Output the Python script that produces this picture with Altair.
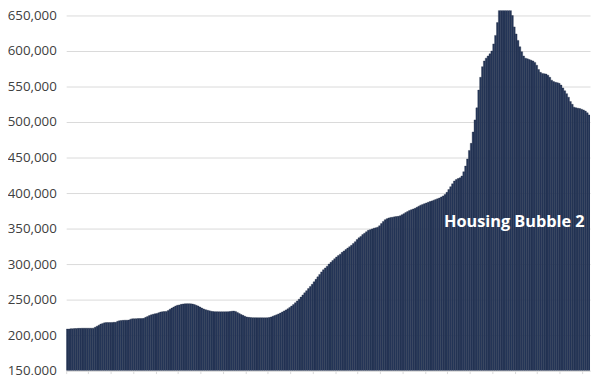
import altair as alt
import pandas as pd

# Values in thousands, one per bar (monthly)
seg_a = [208.5, 208.5, 209, 209, 209.3, 209.3, 209.5, 209.5, 209.7, 209.7, 209.7, 209.7,
         209.7, 209.7, 209.8, 211, 212.5, 214, 215.5, 216.5, 217.3, 217.6, 217.6, 217.6,
         217.8, 218, 218, 219.5, 220.3, 220.6, 220.8, 221, 221, 221.2, 222.5, 223,
         223, 223.2, 223.3, 223.3, 223.4, 223.6, 225, 226.3, 227.5, 228.5, 229.3, 230,
         230.5, 231.5, 232.5, 233, 233.2, 233.4, 234.5, 236.5, 238, 239.5, 241, 242,
         242.5, 243.3, 243.8, 244, 244.2, 244.2, 244, 243.8, 243, 242, 241, 239.5]
seg_b = [238, 236.8, 235.8, 235, 234.3, 233.6, 233.2, 233, 233, 232.8, 232.8, 232.8,
         232.8, 232.9, 233, 233.2, 233.6, 233.8, 233.4, 232, 230.5, 229, 227.8, 226.5,
         225.5, 225, 224.8, 224.6, 224.5, 224.5, 224.4, 224.4, 224.4, 224.3, 224.3, 224.4,
         224.8, 225.5, 226.5, 227.5, 228.5, 229.8, 231, 232.5, 234, 235.5, 237, 239,
         241, 243, 245.5, 248, 250.5, 253.5, 256.5, 259.5, 262.5, 265.5, 268.5, 271.5,
         275, 278.5, 282, 285.5, 289, 292, 294.5, 297, 300, 302.5, 305, 307.5]
seg_c = [310, 312, 314, 316.5, 318.5, 320.5, 322.5, 324.5, 326.5, 329, 331.5, 334.5,
         337, 339, 341.5, 343.5, 345.5, 347.5, 348.5, 349.5, 350.5, 351, 352, 354,
         357, 360, 362.5, 364, 365, 365.7, 366, 366.5, 367, 367.2, 368, 369.5,
         371, 372.5, 374, 375.5, 376.5, 377.5, 378.5, 380, 381.5, 383, 384, 385,
         386, 387, 388, 389, 390, 391, 392, 393, 394.5, 396, 398, 401,
         405, 409, 413, 417, 419, 420.5, 421.5, 424, 430, 438, 448, 460]
seg_d = [470, 486, 503, 520, 545, 563, 578, 586, 590, 593, 596, 600,
         610, 622, 640, 658, 672, 680, 685, 682, 674, 662, 650, 634,
         624, 615, 606, 599, 593, 590, 589, 588, 587, 586, 584, 580,
         574, 570, 568.5, 568, 567.5, 566, 563, 559, 557, 556, 555.5, 554.5,
         552, 548, 544, 540, 535, 529, 525, 521, 520, 519.5, 519, 518,
         517, 515.5, 513, 510]

values = [v * 1000 for v in seg_a + seg_b + seg_c + seg_d]
idx = list(range(len(values)))
df = pd.DataFrame({"i": idx, "price": values})

y_ticks = [150000, 200000, 250000, 300000, 350000, 400000, 450000, 500000, 550000, 600000, 650000]
x_ticks = idx[::12]

label_df = pd.DataFrame({"i": [239], "price": [359500], "text": ["Housing Bubble 2"]})

x_axis = alt.Axis(values=x_ticks, labels=False, bandPosition=0,
                  domainColor="#d9d9d9", tickColor="#d9d9d9", tickSize=3, grid=False)
y_axis = alt.Axis(values=y_ticks, format=",.0f", grid=True, gridColor="#d9d9d9",
                  domain=False, ticks=False, labelPadding=10, labelOverlap=False,
                  labelColor="#404040", labelFont="Open Sans", labelFontSize=13.5)
x_scale = alt.Scale(paddingInner=0, paddingOuter=0)
y_scale = alt.Scale(domain=[150000, 657000], nice=False, zero=False)

bars = alt.Chart(df).mark_bar(fill="#26375A", stroke="#1E2A40", strokeWidth=0.35, clip=True).encode(
    x=alt.X("i:O", sort=None, title=None, scale=x_scale, axis=x_axis),
    y=alt.Y("price:Q", title=None, scale=y_scale, axis=y_axis),
)

text = alt.Chart(label_df).mark_text(color="white", font="Open Sans", fontWeight="bold",
                                      fontSize=16.5).encode(
    x=alt.X("i:O", sort=None, title=None, scale=x_scale, axis=x_axis),
    y=alt.Y("price:Q", title=None, scale=y_scale, axis=y_axis),
    text="text:N",
)

chart = alt.layer(bars, text).properties(
    width=531, height=365,
    autosize=alt.AutoSizeParams(type="none"),
    padding={"left": 59, "top": 0, "right": 2, "bottom": 12},
).configure_view(stroke=None)

chart.save("out.html", embed_options={"renderer": "svg", "actions": False})
